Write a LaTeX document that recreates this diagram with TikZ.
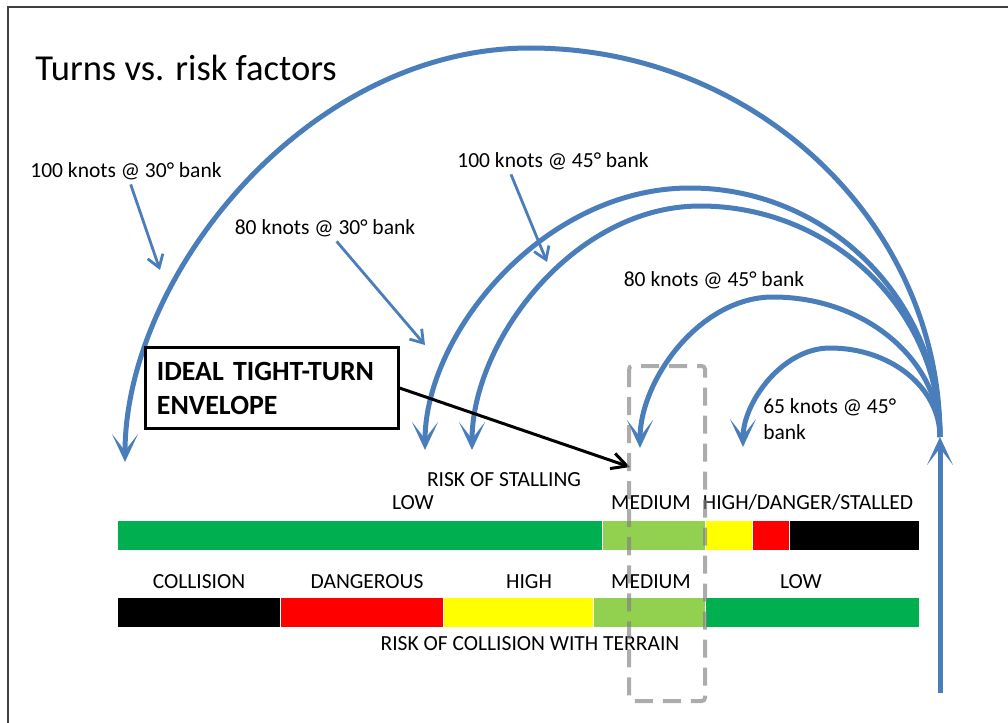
\documentclass[tikz,border=0pt]{standalone}
\usepackage{fontspec}
\setmainfont{Carlito}
\usetikzlibrary{arrows.meta}
\definecolor{turnblue}{RGB}{74,126,187}
\definecolor{riskgreen}{RGB}{0,176,80}
\definecolor{risklime}{RGB}{146,208,80}
\definecolor{riskyellow}{RGB}{255,255,0}
\definecolor{riskred}{RGB}{255,0,0}
\definecolor{framegray}{RGB}{64,64,64}

\begin{document}
\begin{tikzpicture}[x=0.025cm, y=-0.025cm,
	every node/.style={font=\fontsize{15.3}{18}\selectfont},
	>={Stealth[length=0.7cm, width=0.65cm, inset=0.42cm]},
	turn/.style={turnblue, line width=0.125cm, ->},
	pointer/.style={turnblue, line width=0.07cm, -{Straight Barb[length=0.3cm, width=0.4cm]}},
	seg/.style={draw=white, line width=0.4pt},
	envelope/.style={draw, line width=0.075cm, font=\bfseries\fontsize{19.8}{24.2}\selectfont, align=left, text width=5.75cm, inner xsep=0.275cm, minimum height=2cm},
	envbox/.style={draw=gray, draw opacity=0.65, line width=0.1cm, dash pattern=on 0.45cm off 0.25cm, rounded corners=0.08cm}]
	\useasboundingbox (0,0) rectangle (1008,723);
	\draw[framegray, line width=0.04cm] (1008,7) -- (8,7) -- (8,723);
	\node[anchor=base west, inner sep=0pt, font=\fontsize{26}{30}\selectfont] (title) at (35,80) {Turns vs. risk factors};

	% risk of stalling bar
	\fill[riskgreen, seg] (117,520) rectangle (602,550);
	\fill[risklime, seg] (602,520) rectangle (705,550);
	\fill[riskyellow, seg] (705,520) rectangle (752,550);
	\fill[riskred, seg] (752,520) rectangle (789,550);
	\fill[black, seg] (789,520) rectangle (919,550);
	\node[anchor=base] (stall) at (504,486) {RISK OF STALLING};
	\node[anchor=base] (stlow) at (413,509) {LOW};
	\node[anchor=base] (stmed) at (651,509) {MEDIUM};
	\node[anchor=base] (sthigh) at (808,509) {HIGH/DANGER/STALLED};

	% risk of collision bar
	\fill[black, seg] (117,597) rectangle (280,627);
	\fill[riskred, seg] (280,597) rectangle (443,627);
	\fill[riskyellow, seg] (443,597) rectangle (593,627);
	\fill[risklime, seg] (593,597) rectangle (705,627);
	\fill[riskgreen, seg] (705,597) rectangle (919,627);
	\node[anchor=base] (cocoll) at (199,588) {COLLISION};
	\node[anchor=base] (codang) at (367,588) {DANGEROUS};
	\node[anchor=base] (cohigh) at (529,588) {HIGH};
	\node[anchor=base] (comed) at (651,588) {MEDIUM};
	\node[anchor=base] (colow) at (801,588) {LOW};
	\node[anchor=base] (collide) at (530,650) {RISK OF COLLISION WITH TERRAIN};

	% turns
	\coordinate (entry) at (940,693);
	\coordinate (join) at (940,437);
	\coordinate (end100a) at (125,462);
	\coordinate (end80a) at (425,450);
	\coordinate (end100b) at (472,450);
	\coordinate (end80b) at (640,448);
	\coordinate (end65b) at (743,447);
	\draw[turn] (entry) -- (join);
	\draw[turn] (join) .. controls (940,223) and (756,48) .. (530,48) .. controls (306,48) and (125,277) .. (end100a);
	\draw[turn] (join) .. controls (940,300) and (828,188) .. (690,188) .. controls (544,188) and (425,333) .. (end80a);
	\draw[turn] (join) .. controls (940,310) and (832,206) .. (700,206) .. controls (574,206) and (472,341) .. (end100b);
	\draw[turn] (join) .. controls (940,360) and (865,297) .. (773,297) .. controls (700,297) and (640,380) .. (end80b);
	\draw[turn] (join) .. controls (940,388) and (891,348) .. (830,348) .. controls (782,348) and (743,403) .. (end65b);

	% labels of the turns
	\node[anchor=base] (k100a) at (126,177) {100 knots @ 30° bank};
	\node[anchor=base] (k80a) at (325,234) {80 knots @ 30° bank};
	\node[anchor=base] (k100b) at (553,167) {100 knots @ 45° bank};
	\node[anchor=base] (k80b) at (714,286) {80 knots @ 45° bank};
	\node[anchor=north west, align=left, inner sep=0pt, font=\fontsize{15.3}{18.5}\selectfont] (k65b) at (763,398) {65 knots @ 45°\\bank};
	\coordinate (tip100a) at (160,270);
	\coordinate (tip80a) at (425,345);
	\coordinate (tip100b) at (547,262);
	\draw[pointer] (k100a) -- (tip100a);
	\draw[pointer] (k80a) -- (tip80a);
	\draw[pointer] ([xshift=-1.05cm]k100b.south) -- (tip100b);

	% ideal envelope
	\node[envelope] (ideal) at (272,388) {IDEAL TIGHT-TURN\\ENVELOPE};
	\coordinate (idealtip) at (630,467);
	\draw[line width=0.075cm, -{Straight Barb[length=0.38cm, width=0.4cm]}] (ideal.east) -- (idealtip);
	\draw[envbox] (629,366) rectangle (705,701);
\end{tikzpicture}
\end{document}
